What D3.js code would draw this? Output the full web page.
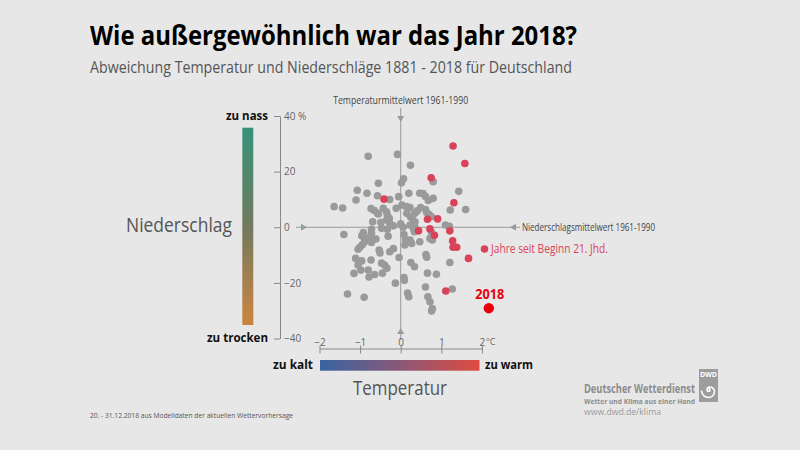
<!DOCTYPE html>
<html><head><meta charset="utf-8">
<script src="https://cdn.jsdelivr.net/npm/d3@7"></script>
<style>
body{margin:0;background:#e7e7e7}
svg{display:block}
text{font-family:"Open Sans",sans-serif}
</style>
</head><body>
<svg id="c" width="800" height="450"></svg>
<script>
// ---- data ----
const xTicks = [-2, -1, 0, 1, 2];
const yTicks = [-40, -20, 0, 20, 40];
// years 1881-1999: temperature anomaly (°C) and precipitation anomaly (%)
const histTemp = [-0.80,-0.08,0.24,0.07,0.02,-0.55,-1.07,-0.83,-0.57,-1.10,-0.27,-0.05,0.20,0.47,0.55,0.61,0.68,0.80,0.80,1.43,1.60,1.22,-1.64,-1.43,-0.73,-0.65,-0.57,-0.43,-0.35,-0.33,-0.28,-0.11,0.03,0.14,0.23,0.35,0.41,0.49,0.61,0.64,0.70,0.76,0.15,0.24,0.28,0.35,-0.55,-0.69,-0.35,-0.27,-0.18,-0.47,-0.72,-0.33,0.06,0.23,0.00,0.32,0.35,1.10,1.20,-0.49,0.34,0.76,0.72,0.78,-1.40,-0.92,-0.72,-0.96,-0.89,-0.88,-0.94,-1.00,-1.05,-0.76,-0.72,-0.61,-0.31,0.08,0.12,0.23,0.27,0.47,0.10,-0.53,-0.51,-0.27,-0.18,-0.04,0.25,0.34,-1.11,-0.96,-1.05,-0.98,-1.15,-0.73,-0.80,-0.78,-0.64,-0.47,-0.40,-0.34,-0.45,-0.13,0.08,0.09,0.62,0.64,1.21,0.66,0.88,0.61,1.27,0.17,0.20,0.67,0.72,0.78,0.76,-1.31,-0.90];
const histPrec = [25.5,26.2,22.3,17.4,16.0,15.8,13.3,12.2,11.3,9.8,10.0,11.0,12.2,12.2,12.1,11.1,9.6,10.4,16.4,12.9,6.4,6.2,7.4,6.9,6.7,6.0,5.0,6.8,5.6,4.4,3.2,6.8,8.0,7.4,7.1,5.0,5.9,7.1,6.4,5.3,4.6,3.8,5.0,3.8,3.3,2.0,4.8,2.0,2.6,1.4,0.5,-0.4,-0.7,-0.7,0.0,0.8,1.2,-0.7,0.2,0.8,0.3,1.7,-1.6,-1.8,-4.0,-4.6,-2.6,-1.9,-2.2,-3.1,-4.0,-5.1,-6.2,-7.1,-7.9,-3.6,-5.5,-4.2,-3.2,-2.6,-4.4,-4.6,-5.8,-5.2,-6.4,-8.2,-9.2,-8.8,-7.7,-10.9,-12.7,-14.2,-11.2,-12.1,-13.6,-15.4,-16.6,-11.8,-15.4,-17.9,-17.0,-12.9,-13.6,-14.7,-16.5,-20.1,-18.1,-19.1,-9.8,-10.8,-12.7,-16.5,-16.9,-21.5,-22.2,-23.7,-25.0,-25.0,-26.8,-29.2,-30.1,-24.0,-25.2];
// years since 2000
const recentTemp = [1.29,1.58,0.75,1.31,0.66,0.91,0.44,0.72,0.83,1.21,1.28,1.29,1.38,1.67,1.11,-0.41];
const recentPrec = [29.2,22.9,17.8,8.8,2.9,3.0,-1.3,-0.6,-2.9,-1.3,-4.9,-7.2,-7.2,-11.2,-22.9,10.1];
const temp2018 = 2.17, prec2018 = -29.1;

// ---- layout ----
const svg = d3.select("#c");
svg.append("rect").attr("width",800).attr("height",450).attr("fill","#e7e7e7");
const x = d3.scaleLinear().domain([-2,2]).range([319.5,481.9]);
const y = d3.scaleLinear().domain([-40,40]).range([338.5,116]);

function fit(sel, w){
  const n = sel.node();
  if (n.getComputedTextLength() > 0) sel.attr("textLength", w).attr("lengthAdjust","spacingAndGlyphs");
  return sel;
}
function txt(str, xx, yy, opt){
  const t = svg.append("text").attr("x",xx).attr("y",yy).text(str)
    .attr("font-size",opt.size).attr("fill",opt.fill||"#000")
    .attr("font-weight",opt.weight||"normal")
    .attr("text-anchor",opt.anchor||"start");
  if (opt.w) fit(t, opt.w);
  return t;
}

// gradients
const defs = svg.append("defs");
const gv = defs.append("linearGradient").attr("id","gv").attr("x1",0).attr("y1",0).attr("x2",0).attr("y2",1);
gv.append("stop").attr("offset","0%").attr("stop-color","#35937a");
gv.append("stop").attr("offset","50%").attr("stop-color","#727a5e");
gv.append("stop").attr("offset","100%").attr("stop-color","#cc843f");
const gh = defs.append("linearGradient").attr("id","gh").attr("x1",0).attr("y1",0).attr("x2",1).attr("y2",0);
gh.append("stop").attr("offset","0%").attr("stop-color","#3764a2");
gh.append("stop").attr("offset","50%").attr("stop-color","#8a5878");
gh.append("stop").attr("offset","100%").attr("stop-color","#df4b40");

// titles
txt("Wie außergewöhnlich war das Jahr 2018?", 90, 45, {size:26, weight:"bold", fill:"#000", w:487});
txt("Abweichung Temperatur und Niederschläge 1881 - 2018 für Deutschland", 90, 73, {size:16.5, fill:"#555", w:482});

// mean lines
const lineCol = "#9a9a9a";
svg.append("line").attr("x1",x(0)).attr("x2",x(0)).attr("y1",108).attr("y2",340).attr("stroke",lineCol).attr("stroke-width",1);
svg.append("line").attr("x1",296).attr("x2",520).attr("y1",y(0)).attr("y2",y(0)).attr("stroke",lineCol).attr("stroke-width",1);
function tri(points){ svg.append("path").attr("d","M"+points.map(p=>p.join(",")).join("L")+"Z").attr("fill",lineCol); }
const cx0 = x(0), cy0 = y(0);
tri([[cx0-3.5,116],[cx0+3.5,116],[cx0,122]]);
tri([[cx0-3.5,334],[cx0+3.5,334],[cx0,328]]);
tri([[301,cy0-3.5],[301,cy0+3.5],[307,cy0]]);
tri([[516,cy0-3.5],[516,cy0+3.5],[510,cy0]]);
txt("Temperaturmittelwert 1961-1990", cx0, 104, {size:10, fill:"#444", anchor:"middle", w:135});
txt("Niederschlagsmittelwert 1961-1990", 522, 231, {size:10, fill:"#444", w:133});

// y axis
const yAx = svg.append("g").attr("transform","translate(280,0)")
  .call(d3.axisRight(y).tickValues(yTicks).tickSizeInner(-6).tickSizeOuter(0).tickPadding(4)
    .tickFormat(d => d===40 ? "40 %" : d3.format("")(d)));
yAx.select(".domain").attr("stroke","#888");
yAx.selectAll(".tick line").attr("stroke","#888");
yAx.selectAll("text").attr("fill","#666").attr("font-size",10).attr("font-family","Open Sans, sans-serif");

// x axis
const xAx = svg.append("g").attr("transform","translate(0,348.5)")
  .call(d3.axisTop(x).tickValues(xTicks).tickSizeInner(-5).tickSizeOuter(0).tickPadding(3)
    .tickFormat(d3.format("")));
xAx.select(".domain").attr("stroke","#888");
xAx.selectAll(".tick line").attr("stroke","#888").attr("y1",-3);
xAx.selectAll("text").attr("fill","#666").attr("font-size",10).attr("font-family","Open Sans, sans-serif");
txt("°C", x(2)+4, 345, {size:9, fill:"#666"});

// dots
const hist = histTemp.map((t,i)=>({t, p:histPrec[i]}));
const recent = recentTemp.map((t,i)=>({t, p:recentPrec[i]}));
svg.append("g").selectAll("circle").data(hist).join("circle")
  .attr("cx",d=>x(d.t)).attr("cy",d=>y(d.p)).attr("r",3.8).attr("fill","#9a9a9a");
svg.append("g").selectAll("circle").data(recent).join("circle")
  .attr("cx",d=>x(d.t)).attr("cy",d=>y(d.p)).attr("r",3.8).attr("fill","#d9435a");
svg.append("circle").attr("cx",x(temp2018)).attr("cy",y(prec2018)).attr("r",5.2).attr("fill","#e8000b");
txt("2018", x(temp2018)+1, 299, {size:14, weight:"bold", fill:"#e8000b", anchor:"middle", w:29});

// legend for recent years
svg.append("circle").attr("cx",484.5).attr("cy",249).attr("r",3.8).attr("fill","#d9435a");
txt("Jahre seit Beginn 21. Jhd.", 491, 253, {size:12, fill:"#d9435a", w:117});

// precipitation colour bar
svg.append("rect").attr("x",242.3).attr("y",127.7).attr("width",11).attr("height",197.3).attr("fill","url(#gv)");
txt("zu nass", 268, 120, {size:13, weight:"bold", fill:"#111", anchor:"end", w:42});
txt("zu trocken", 268, 342, {size:13, weight:"bold", fill:"#111", anchor:"end", w:61});
txt("Niederschlag", 232, 232, {size:20, fill:"#555", anchor:"end", w:106});

// temperature colour bar
svg.append("rect").attr("x",320).attr("y",360).attr("width",159.5).attr("height",10.7).attr("fill","url(#gh)");
txt("zu kalt", 313, 369, {size:13, weight:"bold", fill:"#111", anchor:"end", w:40});
txt("zu warm", 485, 369, {size:13, weight:"bold", fill:"#111", w:48});
txt("Temperatur", 400, 395, {size:20, fill:"#555", anchor:"middle", w:94});

// footer
txt("20. - 31.12.2018 aus Modelldaten der aktuellen Wettervorhersage", 90, 418, {size:8, fill:"#555", w:203});

// DWD block
txt("Deutscher Wetterdienst", 584, 393, {size:11.5, weight:"bold", fill:"#8c8c8c", w:111});
txt("Wetter und Klima aus einer Hand", 584, 403.5, {size:7.5, weight:"bold", fill:"#8c8c8c", w:111});
txt("www.dwd.de/klima", 584, 415, {size:9, fill:"#9a9a9a", w:77});
svg.append("rect").attr("x",699).attr("y",369).attr("width",19).attr("height",33).attr("fill","#9d9d9d");
svg.append("text").attr("x",708.5).attr("y",377).attr("text-anchor","middle").attr("font-size",7)
  .attr("font-weight","bold").attr("fill","#fff").text("DWD");
svg.append("path").attr("d","M708.5,390 m0,-1.5 a1.5,1.5 0 1,1 -1.5,1.5 a3,3 0 0,1 3,-3 a4.5,4.5 0 0,1 4.5,4.5 a6,6 0 0,1 -6,6 a7,7 0 0,1 -7,-7")
  .attr("fill","none").attr("stroke","#fff").attr("stroke-width",1.6);
</script>
</body></html>
